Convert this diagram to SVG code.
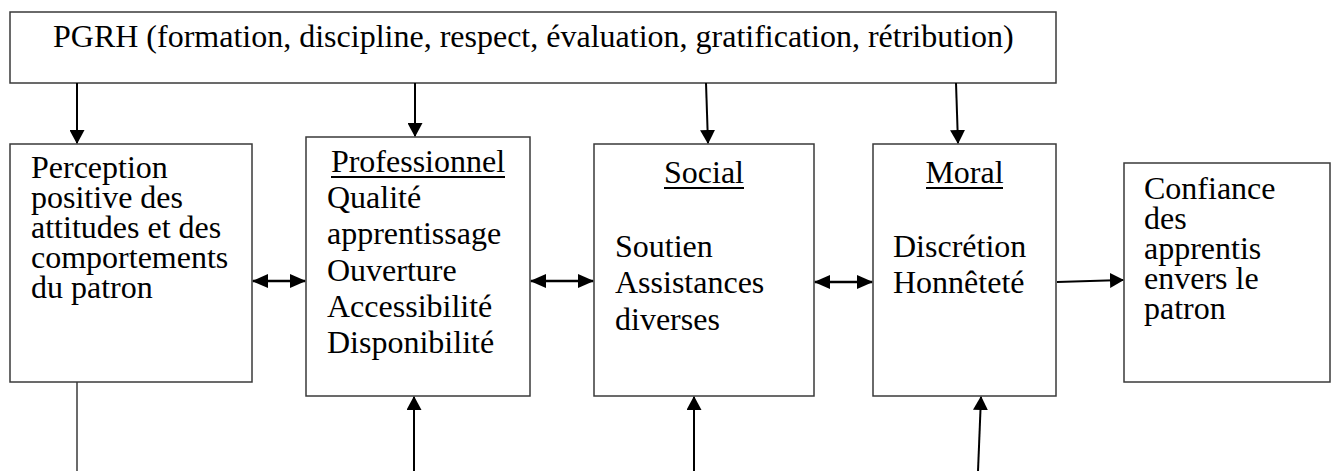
<svg xmlns="http://www.w3.org/2000/svg" width="1336" height="471" viewBox="0 0 1336 471">
<style>
  .box { fill: #ffffff; stroke: #3a3a3a; stroke-width: 1.5; }
  .t { font-family: "Liberation Serif", "Times New Roman", serif; font-size: 32px; fill: #000000; }
  .c { text-anchor: middle; }
  .ul { stroke: #000000; stroke-width: 2; }
  .arr { stroke: #000000; stroke-width: 2; fill: none; marker-end: url(#ah); }
  .dbl { stroke: #000000; stroke-width: 2.5; fill: none; marker-start: url(#ah2); marker-end: url(#ah2); }
  .plain { stroke: #3a3a3a; stroke-width: 1.5; fill: none; }
</style>
<defs>
  <marker id="ah" viewBox="0 0 14 15" refX="13" refY="7.5" markerWidth="14" markerHeight="15" markerUnits="userSpaceOnUse" orient="auto-start-reverse">
    <path d="M0,0 L14,7.5 L0,15 z" fill="#000000"/>
  </marker>
  <marker id="ah2" viewBox="0 0 16 14" refX="15" refY="7" markerWidth="16" markerHeight="14" markerUnits="userSpaceOnUse" orient="auto-start-reverse">
    <path d="M0,0 L16,7 L0,14 z" fill="#000000"/>
  </marker>
</defs>
<rect width="1336" height="471" fill="#ffffff"/>

<g id="pgrh">
  <rect class="box" x="10" y="12" width="1046" height="71"/>
  <text class="t" x="53" y="47">PGRH (formation, discipline, respect, évaluation, gratification, rétribution)</text>
</g>

<g id="perception">
  <rect class="box" x="10" y="144" width="242" height="238"/>
  <text class="t" x="31" y="178">Perception</text>
  <text class="t" x="31" y="208">positive des</text>
  <text class="t" x="31" y="238">attitudes et des</text>
  <text class="t" x="31" y="268">comportements</text>
  <text class="t" x="31" y="298">du patron</text>
</g>

<g id="professionnel">
  <rect class="box" x="306" y="137" width="224" height="259"/>
  <text class="t c" x="418" y="172">Professionnel</text>
  <line class="ul" x1="331" y1="177" x2="505" y2="177"/>
  <text class="t" x="327" y="208">Qualité</text>
  <text class="t" x="327" y="244">apprentissage</text>
  <text class="t" x="327" y="281">Ouverture</text>
  <text class="t" x="327" y="317">Accessibilité</text>
  <text class="t" x="327" y="353">Disponibilité</text>
</g>

<g id="social">
  <rect class="box" x="594" y="144" width="220" height="252"/>
  <text class="t c" x="704" y="183">Social</text>
  <line class="ul" x1="664" y1="188" x2="744" y2="188"/>
  <text class="t" x="615" y="257">Soutien</text>
  <text class="t" x="615" y="293">Assistances</text>
  <text class="t" x="615" y="330">diverses</text>
</g>

<g id="moral">
  <rect class="box" x="873" y="144" width="183" height="252"/>
  <text class="t c" x="964.5" y="183">Moral</text>
  <line class="ul" x1="926" y1="188" x2="1003" y2="188"/>
  <text class="t" x="893" y="257">Discrétion</text>
  <text class="t" x="893" y="293">Honnêteté</text>
</g>

<g id="confiance">
  <rect class="box" x="1124" y="163" width="206" height="219"/>
  <text class="t" x="1144" y="199">Confiance</text>
  <text class="t" x="1144" y="229">des</text>
  <text class="t" x="1144" y="259">apprentis</text>
  <text class="t" x="1144" y="289">envers le</text>
  <text class="t" x="1144" y="319">patron</text>
</g>

<g id="connectors">
  <line class="arr" x1="77" y1="83" x2="77" y2="143"/>
  <line class="arr" x1="415" y1="83" x2="415" y2="136"/>
  <line class="arr" x1="706" y1="83" x2="708" y2="143"/>
  <line class="arr" x1="956" y1="83" x2="958" y2="143"/>

  <line class="dbl" x1="253" y1="281" x2="305" y2="281"/>
  <line class="dbl" x1="531" y1="281" x2="593" y2="281"/>
  <line class="dbl" x1="815" y1="282" x2="872" y2="282"/>
  <line class="arr" x1="1057" y1="282" x2="1123" y2="280"/>

  <line class="plain" x1="77" y1="382" x2="77" y2="471"/>
  <line class="arr" x1="414" y1="471" x2="414" y2="397"/>
  <line class="arr" x1="694" y1="471" x2="694" y2="397"/>
  <line class="arr" x1="978" y1="471" x2="981" y2="397"/>
</g>
</svg>
